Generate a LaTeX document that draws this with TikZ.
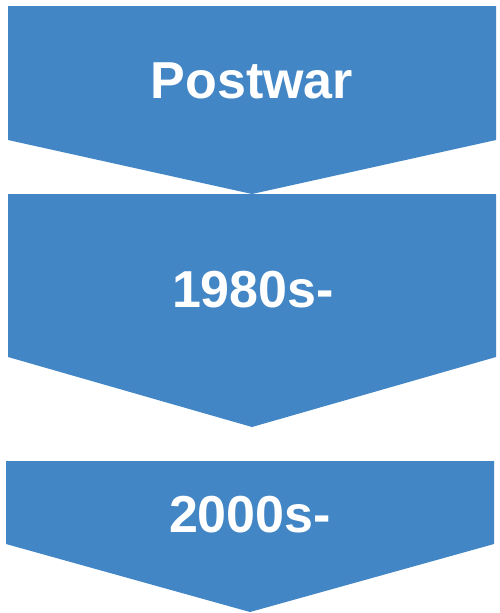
\documentclass[tikz,border=0pt]{standalone}
\usepackage{fontspec}
\setmainfont{Liberation Sans}
\usepackage{tikz}
\definecolor{stageblue}{HTML}{4286C6}
\tikzset{
  stage/.style={fill=stageblue,draw=none},
  stagelabel/.style={anchor=base,text=white,font=\fontsize{52}{60}\selectfont\bfseries,inner sep=0pt}
}

\begin{document}
\begin{tikzpicture}[x=1pt,y=-1pt]
  \useasboundingbox (0,0) rectangle (500,613);
  % chevrons
  \fill[stage] (8,6) -- (496,6) -- (496,140) -- (252,194) -- (8,140) -- cycle;
  \fill[stage] (8,194) -- (496,194) -- (496,357) -- (252,427) -- (8,357) -- cycle;
  \fill[stage] (6,461) -- (494,461) -- (494,544) -- (250,612) -- (6,544) -- cycle;
  % labels
  \node[stagelabel] (postwar) at (252,98) {Postwar};
  \node[stagelabel] (eighties) at (253,307) {1980s-};
  \node[stagelabel] (twothousands) at (250,532) {2000s-};
\end{tikzpicture}
\end{document}
